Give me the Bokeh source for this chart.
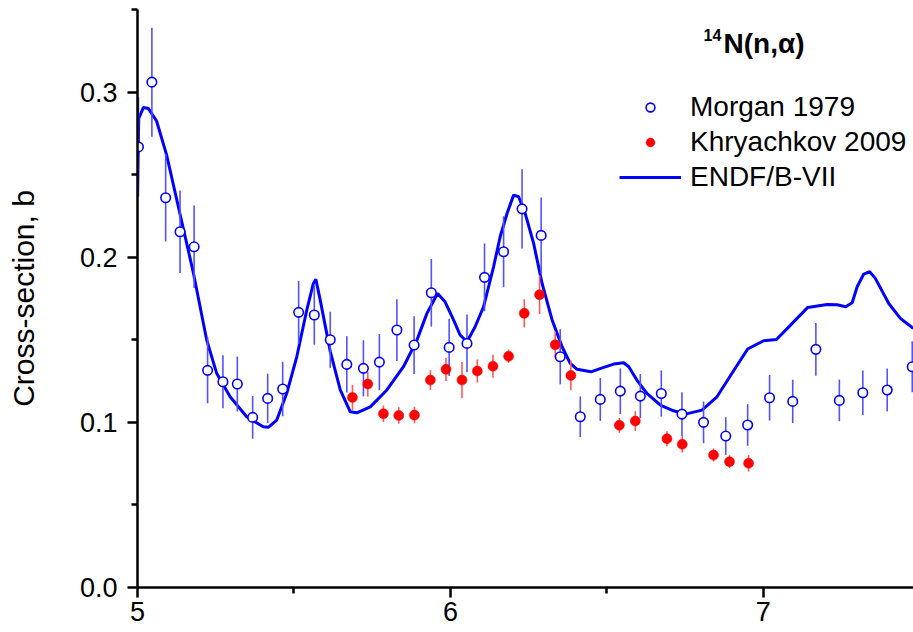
from bokeh.plotting import figure
from bokeh.models import (FixedTicker, NumeralTickFormatter, Range1d, Legend,
                          LegendItem, Label)
from bokeh.embed import file_html
from bokeh.resources import INLINE

# ---------------- data ----------------
morgan_x = [5.003, 5.046, 5.090, 5.136, 5.181, 5.224, 5.273, 5.319, 5.368, 5.416,
            5.464, 5.515, 5.565, 5.616, 5.669, 5.722, 5.773, 5.829, 5.884, 5.939,
            5.996, 6.053, 6.109, 6.170, 6.229, 6.290, 6.351, 6.415, 6.479, 6.543,
            6.607, 6.674, 6.740, 6.809, 6.880, 6.950, 7.020, 7.094, 7.168, 7.243,
            7.318, 7.396, 7.476]
morgan_y = [0.2668, 0.3060, 0.2360, 0.2154, 0.2063, 0.1315, 0.1246, 0.1232, 0.1030, 0.1145,
            0.1202, 0.1666, 0.1650, 0.1500, 0.1351, 0.1327, 0.1365, 0.1559, 0.1468, 0.1785,
            0.1454, 0.1478, 0.1878, 0.2033, 0.2293, 0.2132, 0.1397, 0.1034, 0.1139, 0.1189,
            0.1159, 0.1175, 0.1050, 0.1000, 0.0917, 0.0984, 0.1149, 0.1127, 0.1442, 0.1133,
            0.1179, 0.1196, 0.1337]
morgan_err = [0.0300, 0.0330, 0.0265, 0.0250, 0.0250, 0.0200, 0.0160, 0.0167, 0.0130, 0.0150,
              0.0165, 0.0190, 0.0180, 0.0170, 0.0170, 0.0170, 0.0170, 0.0187, 0.0175, 0.0205,
              0.0174, 0.0175, 0.0205, 0.0215, 0.0240, 0.0230, 0.0167, 0.0123, 0.0130, 0.0138,
              0.0134, 0.0140, 0.0132, 0.0126, 0.0114, 0.0126, 0.0138, 0.0131, 0.0160, 0.0126,
              0.0135, 0.0130, 0.0154]

khr_x = [5.687, 5.736, 5.786, 5.835, 5.885, 5.936, 5.986, 6.037, 6.086, 6.136, 6.186,
         6.236, 6.285, 6.335, 6.385, 6.540, 6.591, 6.692, 6.741, 6.841, 6.892, 6.953]
khr_y = [0.1151, 0.1232, 0.1052, 0.1042, 0.1044, 0.1256, 0.1321, 0.1256, 0.1311, 0.1340, 0.1400,
         0.1660, 0.1773, 0.1470, 0.1284, 0.0982, 0.1008, 0.0901, 0.0867, 0.0802, 0.0762, 0.0752]
khr_err = [0.0076, 0.0076, 0.0050, 0.0050, 0.0050, 0.0060, 0.0070, 0.0110, 0.0070, 0.0070, 0.0040,
           0.0085, 0.0118, 0.0080, 0.0090, 0.0045, 0.0060, 0.0045, 0.0050, 0.0040, 0.0040, 0.0050]

endf_x = [5.000, 5.004, 5.019, 5.035, 5.061, 5.093, 5.136, 5.178, 5.221, 5.253,
          5.296, 5.349, 5.402, 5.418, 5.445, 5.477, 5.509, 5.541, 5.562, 5.570,
          5.584, 5.616, 5.648, 5.680, 5.701, 5.744, 5.797, 5.850, 5.893, 5.925,
          5.959, 5.983, 6.010, 6.031, 6.053, 6.079, 6.106, 6.138, 6.159, 6.181,
          6.202, 6.218, 6.239, 6.266, 6.293, 6.325, 6.357, 6.383, 6.405, 6.449,
          6.490, 6.522, 6.554, 6.570, 6.596, 6.628, 6.671, 6.713, 6.751, 6.804,
          6.852, 6.900, 6.950, 7.001, 7.042, 7.087, 7.142, 7.204, 7.236, 7.263,
          7.284, 7.300, 7.321, 7.340, 7.358, 7.401, 7.438, 7.479]
endf_y = [0.2380, 0.2840, 0.2907, 0.2900, 0.2825, 0.2620, 0.2260, 0.1910, 0.1500, 0.1297,
          0.1155, 0.1034, 0.0973, 0.0970, 0.1014, 0.1176, 0.1397, 0.1680, 0.1841, 0.1866,
          0.1740, 0.1430, 0.1196, 0.1064, 0.1058, 0.1094, 0.1196, 0.1337, 0.1498, 0.1660,
          0.1780, 0.1730, 0.1620, 0.1529, 0.1488, 0.1579, 0.1700, 0.1942, 0.2124, 0.2265,
          0.2376, 0.2366, 0.2265, 0.2084, 0.1841, 0.1620, 0.1458, 0.1357, 0.1321, 0.1306,
          0.1333, 0.1353, 0.1361, 0.1337, 0.1256, 0.1176, 0.1105, 0.1070, 0.1050, 0.1074,
          0.1155, 0.1297, 0.1444, 0.1494, 0.1502, 0.1589, 0.1696, 0.1714, 0.1712, 0.1700,
          0.1724, 0.1821, 0.1898, 0.1912, 0.1872, 0.1720, 0.1630, 0.1569]

x_ticks = [5, 6, 7]
x_minor = [5.5, 6.5, 7.5]
y_ticks = [0.0, 0.1, 0.2, 0.3]
y_minor = [0.05, 0.15, 0.25, 0.35]

y_label = "Cross-section, b"
title_sup = "14"
title_main = "N(n,\u03b1)"
labels = ["Morgan 1979", "Khryachkov 2009", "ENDF/B-VII"]

FONT = "Liberation Sans"

# ---------------- figure ----------------
p = figure(width=913, height=632, output_backend="svg", toolbar_location=None,
           x_range=Range1d(5.0, 7.48), y_range=Range1d(0.0, 0.35),
           min_border_left=137, min_border_right=0, min_border_top=9,
           min_border_bottom=45)
p.outline_line_color = None
p.grid.visible = False
p.background_fill_color = "white"

for ax in (p.xaxis[0], p.yaxis[0]):
    ax.axis_line_width = 2.5
    ax.axis_line_color = "black"
    ax.major_tick_line_width = 2.5
    ax.minor_tick_line_width = 2.5
    ax.major_tick_out = 10
    ax.major_tick_in = 0
    ax.minor_tick_out = 6
    ax.minor_tick_in = 0
    ax.major_label_text_font = FONT
    ax.major_label_text_font_size = "27px"
    ax.major_label_text_color = "black"

p.xaxis.ticker = FixedTicker(ticks=x_ticks, minor_ticks=x_minor)
p.xaxis.formatter = NumeralTickFormatter(format="0")
p.xaxis.major_label_standoff = 4

p.yaxis.ticker = FixedTicker(ticks=y_ticks, minor_ticks=y_minor)
p.yaxis.formatter = NumeralTickFormatter(format="0.0")
p.yaxis.major_label_standoff = 10
p.yaxis.axis_label = y_label
p.yaxis.axis_label_text_font = FONT
p.yaxis.axis_label_text_font_size = "30px"
p.yaxis.axis_label_text_font_style = "normal"
p.yaxis.axis_label_text_color = "black"
p.yaxis.axis_label_standoff = 37

# ENDF line
endf_r = p.line(endf_x, endf_y, line_color="#0000FF", line_width=3)

# error bars
m_lo = [y - e for y, e in zip(morgan_y, morgan_err)]
m_hi = [y + e for y, e in zip(morgan_y, morgan_err)]
p.segment(x0=morgan_x, y0=m_lo, x1=morgan_x, y1=m_hi, line_color="#5252ff", line_width=1.6)
k_lo = [y - e for y, e in zip(khr_y, khr_err)]
k_hi = [y + e for y, e in zip(khr_y, khr_err)]
p.segment(x0=khr_x, y0=k_lo, x1=khr_x, y1=k_hi, line_color="#ff5a5a", line_width=1.6)

morgan_r = p.scatter(morgan_x, morgan_y, marker="circle", size=9.5,
                     line_color="#0000FF", line_width=1.6, fill_color="white")
khr_r = p.scatter(khr_x, khr_y, marker="circle", size=10,
                  line_color="#FF0000", line_width=0.5, fill_color="#FF0000")

legend = Legend(items=[LegendItem(label=labels[0], renderers=[morgan_r]),
                       LegendItem(label=labels[1], renderers=[khr_r]),
                       LegendItem(label=labels[2], renderers=[endf_r])],
                location=(482, 393))
legend.label_text_font = FONT
legend.label_text_font_size = "28px"
legend.label_text_color = "black"
legend.glyph_width = 62
legend.glyph_height = 22
legend.label_height = 34
legend.label_standoff = 9
legend.spacing = 1
legend.padding = 0
legend.margin = 0
legend.border_line_color = None
legend.background_fill_alpha = 0
p.add_layout(legend, "center")

p.add_layout(Label(x=586, y=529, x_units="screen", y_units="screen", text=title_main,
                   text_font=FONT, text_font_size="28px", text_font_style="bold",
                   text_color="black"))
p.add_layout(Label(x=566, y=547, x_units="screen", y_units="screen", text=title_sup,
                   text_font=FONT, text_font_size="16px", text_font_style="bold",
                   text_color="black"))

open("out.html", "w").write(file_html(p, INLINE))
